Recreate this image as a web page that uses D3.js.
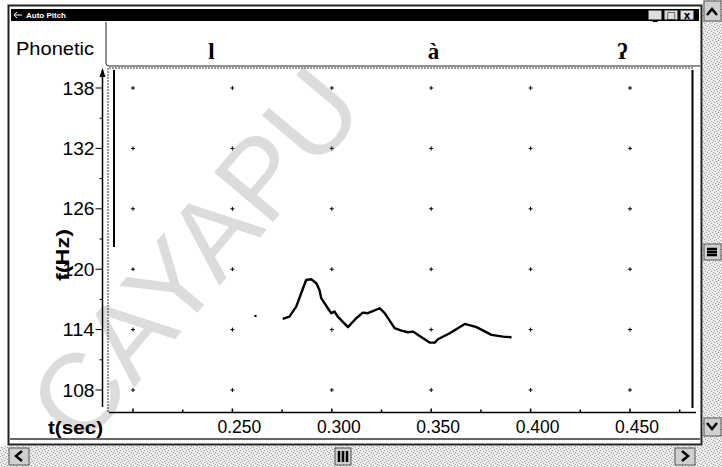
<!DOCTYPE html>
<html><head><meta charset="utf-8">
<script src="https://cdn.jsdelivr.net/npm/d3@7"></script>
<style>html,body{margin:0;padding:0;background:#fff;overflow:hidden}svg{display:block}</style>
</head><body>
<svg id="c" width="722" height="467"></svg>
<script>
// Pitch track (time in s, F0 in Hz)
const pitchTime = [0.2753,0.2787,0.2821,0.2846,0.2871,0.2896,0.2922,0.2938,0.2947,0.2980,0.2997,0.3014,0.3030,0.3081,0.3123,0.3156,0.3182,0.3241,0.3266,0.3316,0.3350,0.3383,0.3408,0.3442,0.3492,0.3518,0.3534,0.3593,0.3669,0.3728,0.3803,0.3862,0.3904];
const pitchHz   = [115.06,115.29,116.28,117.61,118.93,119.00,118.61,117.94,117.12,116.12,115.63,115.79,115.29,114.24,115.13,115.69,115.63,116.12,115.63,114.14,113.90,113.74,113.80,113.37,112.71,112.71,113.04,113.64,114.56,114.24,113.47,113.30,113.24];
// isolated voiced frame before the main track
const strayTime = [0.2616];
const strayHz = [115.36];

const yTicks = [108,114,120,126,132,138];
const yMinorTicks = [111,117,123,129,135];
const xTicks = [0.200,0.250,0.300,0.350,0.400,0.450];
const xMinorTicks = [0.225,0.275,0.325,0.375,0.425,0.475];
const xTickLabels = ["","0.250","0.300","0.350","0.400","0.450"];
const segmentLabels = ["l","à","ʔ"];
const segmentTimes = [0.2394,0.3511,0.4462];

const svg = d3.select("#c");
const x = d3.scaleLinear().domain([0.200,0.450]).range([133,630]);
const y = d3.scaleLinear().domain([108,138]).range([390,88]);
const SANS = "Liberation Sans";

// stipple pattern for the grey window chrome
const defs = svg.append("defs");
const pat = defs.append("pattern").attr("id","stip").attr("width",6).attr("height",6).attr("patternUnits","userSpaceOnUse");
pat.append("rect").attr("width",6).attr("height",6).attr("fill","#ececec");
[[0,0],[3,1],[1,3],[4,4],[2,5],[5,2]].forEach(([a,b])=>pat.append("rect").attr("x",a).attr("y",b).attr("width",1).attr("height",1).attr("fill","#9a9a9a"));

svg.append("rect").attr("width",722).attr("height",467).attr("fill","#fff");
svg.append("rect").attr("x",703).attr("y",0).attr("width",19).attr("height",467).attr("fill","url(#stip)");
svg.append("rect").attr("x",0).attr("y",446).attr("width",722).attr("height",21).attr("fill","url(#stip)");

// watermark
svg.append("text").attr("transform","translate(82,450) rotate(-50)")
  .attr("font-family",SANS).attr("font-size",112).attr("fill","#dcdcdc")
  .text("CAYAPU");

// window frame
svg.append("rect").attr("x",8.5).attr("y",5.5).attr("width",693).attr("height",439).attr("fill","none").attr("stroke","#222").attr("stroke-width",2);
svg.append("rect").attr("x",11).attr("y",9).attr("width",688).attr("height",12).attr("fill","#000");
svg.append("text").attr("x",26).attr("y",18).attr("font-family",SANS).attr("font-size",8).attr("font-weight","bold").attr("fill","#fff").text("Auto Pitch");
svg.append("path").attr("d","M14,15 h8 M17,12 l-3,3 l3,3").attr("stroke","#fff").attr("fill","none");
// title buttons
[648,664,680].forEach((bx,i)=>{
  svg.append("rect").attr("x",bx).attr("y",10).attr("width",14).attr("height",10).attr("fill","#ddd").attr("stroke","#000");
  svg.append("text").attr("x",bx+7).attr("y",19).attr("text-anchor","middle").attr("font-family","DejaVu Sans").attr("font-weight","bold").attr("font-size",10).text(["_","□","x"][i]);
});

// phonetic row
svg.append("text").attr("x",16).attr("y",55).attr("font-family",SANS).attr("font-size",19).attr("textLength",78).attr("lengthAdjust","spacingAndGlyphs").text("Phonetic");
svg.append("path").attr("d","M106,22 V63 q0,3 3,3 H700").attr("fill","none").attr("stroke","#222").attr("stroke-width",1);
svg.selectAll(".seg").data(segmentLabels).join("text")
  .attr("x",(d,i)=>x(segmentTimes[i])).attr("y",59).attr("text-anchor","middle")
  .attr("font-family","Liberation Serif").attr("font-weight","bold").attr("font-size",23).text(d=>d);

// plot frame
svg.append("path").attr("d","M108,412 V68 H694").attr("fill","none").attr("stroke","#333").attr("stroke-width",1).attr("stroke-dasharray","2,1");
svg.append("line").attr("x1",692.5).attr("x2",692.5).attr("y1",70).attr("y2",408).attr("stroke","#000").attr("stroke-width",2);
svg.append("line").attr("x1",114).attr("x2",114).attr("y1",70).attr("y2",247).attr("stroke","#000").attr("stroke-width",2);

// grid points
const gpts = [];
xTicks.forEach(t=>yTicks.forEach(f=>gpts.push([t,f])));
svg.selectAll(".gp").data(gpts).join("path")
  .attr("d",d=>`M${x(d[0])-2},${y(d[1])} h4 M${x(d[0])},${y(d[1])-2} v4`)
  .attr("stroke","#000").attr("stroke-width",1);

// y axis
const yAxisX = 102.5;
svg.append("line").attr("x1",yAxisX).attr("x2",yAxisX).attr("y1",70).attr("y2",407).attr("stroke","#000").attr("stroke-width",1.5);
svg.append("path").attr("d",`M${yAxisX},68 l-3,9 h6 z`).attr("fill","#000");
svg.selectAll(".yt").data(yTicks).join("line").attr("x1",yAxisX-7).attr("x2",yAxisX).attr("y1",d=>y(d)).attr("y2",d=>y(d)).attr("stroke","#000");
svg.selectAll(".ym").data(yMinorTicks).join("line").attr("x1",yAxisX-3).attr("x2",yAxisX).attr("y1",d=>y(d)).attr("y2",d=>y(d)).attr("stroke","#000");
svg.selectAll(".yl").data(yTicks).join("text").attr("x",yAxisX-8).attr("y",d=>y(d)+6.5).attr("text-anchor","end")
  .attr("font-family",SANS).attr("font-size",18).attr("textLength",32).attr("lengthAdjust","spacingAndGlyphs").text(d=>d);
svg.append("text").attr("transform","translate(69,255) rotate(-90)").attr("text-anchor","middle")
  .attr("font-family",SANS).attr("font-weight","bold").attr("font-size",18).attr("textLength",52).attr("lengthAdjust","spacingAndGlyphs").text("f(Hz)");

// x axis
const xAxisY = 412.5;
svg.append("line").attr("x1",109).attr("x2",696).attr("y1",xAxisY).attr("y2",xAxisY).attr("stroke","#000").attr("stroke-width",1.5);
svg.selectAll(".xt").data(xTicks).join("line").attr("x1",d=>x(d)).attr("x2",d=>x(d)).attr("y1",xAxisY-4).attr("y2",xAxisY).attr("stroke","#000").attr("stroke-width",1.5);
svg.selectAll(".xm").data(xMinorTicks).join("line").attr("x1",d=>x(d)).attr("x2",d=>x(d)).attr("y1",xAxisY-3).attr("y2",xAxisY).attr("stroke","#000").attr("stroke-width",1.5);
svg.selectAll(".xl").data(xTicks).join("text").attr("x",d=>x(d)+7).attr("y",433).attr("text-anchor","middle")
  .attr("font-family",SANS).attr("font-size",17.5).text((d,i)=>xTickLabels[i]);
svg.append("text").attr("x",48).attr("y",434).attr("font-family",SANS).attr("font-weight","bold").attr("font-size",18).attr("textLength",55).attr("lengthAdjust","spacingAndGlyphs").text("t(sec)");
svg.append("line").attr("x1",10).attr("x2",700).attr("y1",439).attr("y2",439).attr("stroke","#333").attr("stroke-width",1.5);

// pitch curve
const line = d3.line().x((d,i)=>x(pitchTime[i])).y(d=>y(d));
svg.append("path").attr("d",line(pitchHz)).attr("fill","none").attr("stroke","#000").attr("stroke-width",2.4).attr("stroke-linejoin","round");
svg.selectAll(".st").data(strayHz).join("circle").attr("cx",(d,i)=>x(strayTime[i])).attr("cy",d=>y(d)).attr("r",1.2).attr("fill","#000");

// scroll bar buttons
function btn(bx,by,w,h,glyph){
  svg.append("rect").attr("x",bx).attr("y",by).attr("width",w).attr("height",h).attr("fill","#d0d0d0").attr("stroke","#555");
  svg.append("path").attr("d",glyph).attr("fill","none").attr("stroke","#000").attr("stroke-width",2.5);
}
btn(704,1,17,20,"M707,15 l5,-6 l5,6");
btn(704,418,17,18,"M707,423 l5,6 l5,-6");
btn(704,244,17,16,"M707,249 h10 M707,252 h10 M707,255 h10");
btn(9,448,20,17,"M22,451 l-6,5 l6,5");
btn(675,448,20,17,"M682,451 l6,5 l-6,5");
btn(335,448,16,17,"M339,451 v11 M343,451 v11 M347,451 v11");
</script>
</body></html>
